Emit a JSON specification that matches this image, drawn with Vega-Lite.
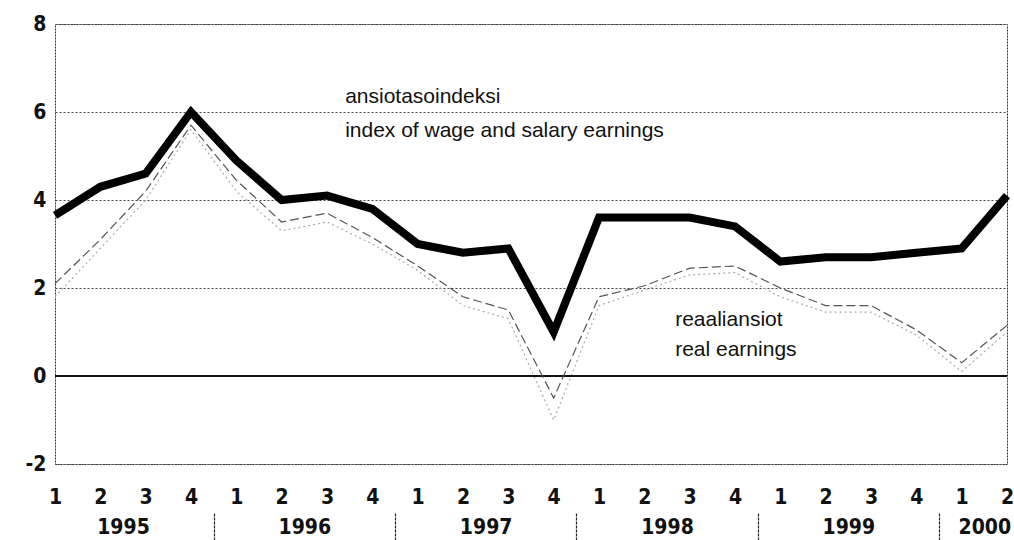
{
  "$schema": "https://vega.github.io/schema/vega-lite/v6.json",
  "autosize": "none",
  "width": 952,
  "height": 440,
  "padding": {"left": 55, "top": 24, "right": 7, "bottom": 76},
  "background": "white",
  "config": {
    "view": {"stroke": "#333", "strokeDash": [2, 1], "strokeWidth": 1},
    "axis": {"labelFont": "DejaVu Sans Condensed, Liberation Sans Narrow, sans-serif", "labelFontWeight": "bold", "labelFontSize": 21, "labelColor": "#111"}
  },
  "datasets": {
    "series": [
      {"i": 0, "year": 1995, "q": 1, "index": 3.65, "realA": 2.1, "realB": 1.8},
      {"i": 1, "year": 1995, "q": 2, "index": 4.3, "realA": 3.1, "realB": 2.9},
      {"i": 2, "year": 1995, "q": 3, "index": 4.6, "realA": 4.2, "realB": 4.0},
      {"i": 3, "year": 1995, "q": 4, "index": 6.0, "realA": 5.7, "realB": 5.6},
      {"i": 4, "year": 1996, "q": 1, "index": 4.9, "realA": 4.45, "realB": 4.2},
      {"i": 5, "year": 1996, "q": 2, "index": 4.0, "realA": 3.5, "realB": 3.3},
      {"i": 6, "year": 1996, "q": 3, "index": 4.1, "realA": 3.7, "realB": 3.5},
      {"i": 7, "year": 1996, "q": 4, "index": 3.8, "realA": 3.15, "realB": 3.0},
      {"i": 8, "year": 1997, "q": 1, "index": 3.0, "realA": 2.5, "realB": 2.4},
      {"i": 9, "year": 1997, "q": 2, "index": 2.8, "realA": 1.8, "realB": 1.6},
      {"i": 10, "year": 1997, "q": 3, "index": 2.9, "realA": 1.5, "realB": 1.3},
      {"i": 11, "year": 1997, "q": 4, "index": 1.0, "realA": -0.5, "realB": -1.0},
      {"i": 12, "year": 1998, "q": 1, "index": 3.6, "realA": 1.8, "realB": 1.6},
      {"i": 13, "year": 1998, "q": 2, "index": 3.6, "realA": 2.05, "realB": 1.95},
      {"i": 14, "year": 1998, "q": 3, "index": 3.6, "realA": 2.45, "realB": 2.3},
      {"i": 15, "year": 1998, "q": 4, "index": 3.4, "realA": 2.5, "realB": 2.35},
      {"i": 16, "year": 1999, "q": 1, "index": 2.6, "realA": 2.0, "realB": 1.8},
      {"i": 17, "year": 1999, "q": 2, "index": 2.7, "realA": 1.6, "realB": 1.45},
      {"i": 18, "year": 1999, "q": 3, "index": 2.7, "realA": 1.6, "realB": 1.45},
      {"i": 19, "year": 1999, "q": 4, "index": 2.8, "realA": 1.05, "realB": 0.93},
      {"i": 20, "year": 2000, "q": 1, "index": 2.9, "realA": 0.3, "realB": 0.1},
      {"i": 21, "year": 2000, "q": 2, "index": 4.1, "realA": 1.15, "realB": 1.0}
    ],
    "notes": [
      {"i": 6.4, "v": 6.34, "label": "ansiotasoindeksi"},
      {"i": 6.4, "v": 5.57, "label": "index of wage and salary earnings"},
      {"i": 13.68, "v": 1.27, "label": "reaaliansiot"},
      {"i": 13.68, "v": 0.59, "label": "real earnings"}
    ]
  },
  "resolve": {"axis": {"x": "independent", "y": "independent"}},
  "layer": [
    {
      "data": {"name": "series"},
      "mark": {"type": "line", "color": "#aaa", "strokeWidth": 1.2, "strokeDash": [2, 3]},
      "encoding": {
        "x": {"field": "i", "type": "quantitative", "scale": {"domain": [0, 21], "nice": false, "zero": false},
          "axis": {"orient": "bottom", "values": [3.5, 7.5, 11.5, 15.5, 19.5], "labels": false, "domain": false, "grid": false, "ticks": true, "tickSize": 28, "tickColor": "#222", "tickWidth": 1.2, "tickDash": [3, 1], "offset": 49, "title": null}},
        "y": {"field": "realB", "type": "quantitative", "scale": {"domain": [-2, 8], "nice": false},
          "axis": {"orient": "left", "values": [-2, 0, 2, 4, 6, 8], "labelExpr": "datum.value < 0 ? '-' + abs(datum.value) : '' + datum.value", "title": null, "domain": false, "ticks": false, "labelPadding": 9, "grid": true, "gridColor": "#444", "gridDash": [2, 2], "gridWidth": 1}}
      }
    },
    {
      "data": {"name": "series"},
      "mark": {"type": "rule", "color": "#111", "strokeWidth": 1.6},
      "encoding": {"y": {"datum": 0, "type": "quantitative", "axis": null}}
    },
    {
      "data": {"name": "series"},
      "mark": {"type": "line", "color": "#555", "strokeWidth": 1.2, "strokeDash": [9, 4]},
      "encoding": {
        "x": {"field": "i", "type": "quantitative",
          "axis": {"orient": "bottom", "values": [1.5, 5.5, 9.5, 13.5, 17.5, 20.5], "labelExpr": "'' + (1995 + floor(datum.value / 4))", "domain": false, "grid": false, "ticks": false, "labelPadding": 52, "title": null, "labelFlush": false, "labelOverlap": false}},
        "y": {"field": "realA", "type": "quantitative", "axis": null}
      }
    },
    {
      "data": {"name": "series"},
      "mark": {"type": "line", "color": "#000", "strokeWidth": 8, "strokeJoin": "miter", "strokeCap": "butt"},
      "encoding": {
        "x": {"field": "i", "type": "quantitative",
          "axis": {"orient": "bottom", "values": [0, 1, 2, 3, 4, 5, 6, 7, 8, 9, 10, 11, 12, 13, 14, 15, 16, 17, 18, 19, 20, 21], "labelExpr": "'' + ((datum.value % 4) + 1)", "domain": false, "grid": false, "ticks": false, "labelPadding": 22, "title": null, "labelFlush": false, "labelOverlap": false}},
        "y": {"field": "index", "type": "quantitative", "axis": null}
      }
    },
    {
      "data": {"name": "notes"},
      "mark": {"type": "text", "align": "left", "baseline": "middle", "font": "Liberation Sans", "fontSize": 21, "color": "#111"},
      "encoding": {
        "x": {"field": "i", "type": "quantitative", "axis": null},
        "y": {"field": "v", "type": "quantitative", "axis": null},
        "text": {"field": "label"}
      }
    }
  ]
}
